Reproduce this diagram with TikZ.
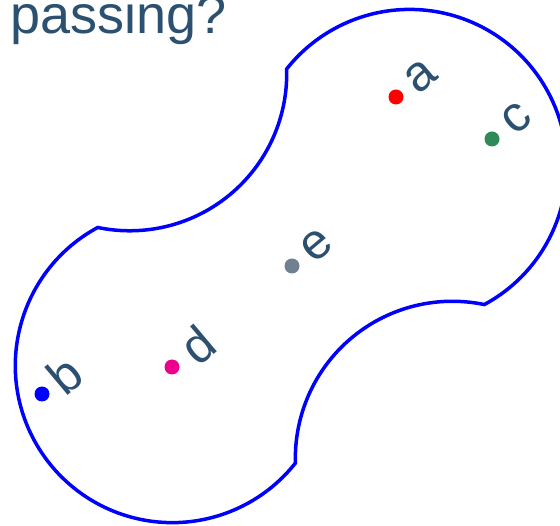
\documentclass[tikz,border=0pt]{standalone}
\usepackage{fontspec}
\setmainfont{Liberation Sans}
\definecolor{txtblue}{RGB}{44,80,112}
\definecolor{dotred}{RGB}{255,0,0}
\definecolor{dotgreen}{RGB}{46,139,87}
\definecolor{dotgray}{RGB}{112,128,144}
\definecolor{dotpink}{RGB}{236,0,140}
\definecolor{dotblue}{RGB}{0,0,255}
\definecolor{shapeblue}{RGB}{0,0,255}
\tikzset{
  ptdot/.style={circle, fill=#1, inner sep=0pt, minimum size=15pt},
  ptlab/.style={text=txtblue, rotate=40, inner sep=0pt, anchor=center, font=\fontsize{50}{54}\selectfont},
  outline/.style={draw=shapeblue, line width=3.5pt, line join=miter}
}
\begin{document}
\begin{tikzpicture}[x=1pt,y=1pt]
\clip (0,0) rectangle (560,-526);
\fill[white] (0,0) rectangle (560,-526);
% title
\node[anchor=base west, inner sep=0pt, text=txtblue, font=\fontsize{54}{60}\selectfont] (title) at (10,-34) {passing?};
% outline
\begin{scope}[shift={(291,-266)}, rotate=40]
\draw[outline] (123.3,-153.8)
  arc[start angle=-101.65, end angle=101.65, radius=157pt]
  arc[start angle=-38.25, end angle=-141.75, radius=157pt]
  arc[start angle=78.35, end angle=281.65, radius=157pt]
  arc[start angle=141.75, end angle=38.25, radius=157pt]
  -- cycle;
\end{scope}
% points
\node[ptdot=dotred] (a) at (396,-97) {};
\node[ptdot=dotgreen] (c) at (492,-139) {};
\node[ptdot=dotgray] (e) at (292,-266) {};
\node[ptdot=dotpink] (d) at (172,-367) {};
\node[ptdot=dotblue] (b) at (42,-394) {};
% labels
\node[ptlab] (la) at ([shift={(40:32)}]a) {a};
\node[ptlab] (lc) at ([shift={(40:32)}]c) {c};
\node[ptlab] (le) at ([shift={(40:32)}]e) {e};
\node[ptlab] (ld) at ([shift={(40:34)}]d) {d};
\node[ptlab] (lb) at ([shift={(40:29)}]b) {b};
\end{tikzpicture}
\end{document}
